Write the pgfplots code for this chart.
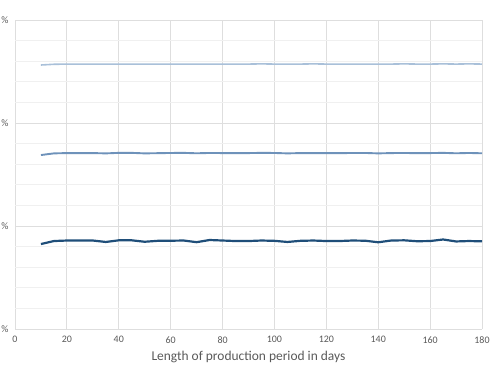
\documentclass[border=0pt]{standalone}
\usepackage{pgfplots}
\pgfplotsset{compat=1.18}
\usepackage{fontspec}
\setmainfont{Carlito}
\definecolor{tickgray}{HTML}{595959}
\definecolor{majgrid}{HTML}{DEDEDE}
\definecolor{mingrid}{HTML}{F0F0F0}
\definecolor{sLight}{HTML}{A9C0D9}
\definecolor{sMid}{HTML}{6E92BA}
\definecolor{sDark}{HTML}{1F4E79}
\begin{document}
\begin{tikzpicture}
\begin{axis}[
  name=ax,
  scale only axis,
  width=467bp, height=309bp,
  xmin=0, xmax=180, ymin=0, ymax=3,
  xtick={0,20,...,180},
  ytick={0,1,2,3},
  yticklabels={\%,\%,\%,\%},
  minor y tick num=4,
  grid=both,
  major grid style={majgrid, line width=0.9pt},
  minor grid style={mingrid, line width=0.8pt},
  axis line style={draw=none},
  major tick length=0pt, minor tick length=0pt,
  tick label style={font=\fontsize{10}{11}\selectfont, text=tickgray},
  /pgf/number format/assume math mode=true,
  xticklabel style={yshift=-4bp},
  yticklabel style={xshift=-3bp},
  xlabel={Length of production period in days},
  xlabel style={font=\fontsize{13.5}{15}\selectfont, text=tickgray, yshift=-1bp},
  every axis plot/.append style={no marks, line join=round},
]
\addplot[sLight, line width=1.6pt] coordinates {
(10,2.563)(15,2.570)(20,2.572)(25,2.572)(30,2.572)(35,2.572)(40,2.572)(45,2.572)(50,2.572)(55,2.572)(60,2.572)(65,2.572)(70,2.572)(75,2.572)(80,2.572)(85,2.572)(90,2.572)(95,2.574)(100,2.572)(105,2.572)(110,2.572)(115,2.574)(120,2.572)(125,2.572)(130,2.572)(135,2.572)(140,2.572)(145,2.572)(150,2.574)(155,2.572)(160,2.572)(165,2.574)(170,2.572)(175,2.574)(180,2.572)
};
\addplot[sMid, line width=1.9pt] coordinates {
(10,1.689)(15,1.705)(20,1.708)(25,1.708)(30,1.708)(35,1.705)(40,1.710)(45,1.710)(50,1.705)(55,1.707)(60,1.709)(65,1.710)(70,1.706)(75,1.709)(80,1.708)(85,1.707)(90,1.708)(95,1.710)(100,1.709)(105,1.705)(110,1.708)(115,1.708)(120,1.707)(125,1.707)(130,1.709)(135,1.709)(140,1.705)(145,1.708)(150,1.709)(155,1.707)(160,1.708)(165,1.710)(170,1.706)(175,1.709)(180,1.706)
};
\addplot[sDark, line width=2.2pt] coordinates {
(10,0.825)(15,0.854)(20,0.859)(25,0.859)(30,0.859)(35,0.845)(40,0.861)(45,0.861)(50,0.847)(55,0.856)(60,0.857)(65,0.859)(70,0.843)(75,0.864)(80,0.859)(85,0.854)(90,0.854)(95,0.859)(100,0.856)(105,0.845)(110,0.856)(115,0.859)(120,0.854)(125,0.854)(130,0.859)(135,0.857)(140,0.842)(145,0.859)(150,0.861)(155,0.852)(160,0.854)(165,0.869)(170,0.850)(175,0.854)(180,0.851)
};
\end{axis}
\pgfresetboundingbox
\path[use as bounding box] ([xshift=-15bp,yshift=-43bp]ax.south west) rectangle ([xshift=13bp,yshift=20bp]ax.north east);
\end{tikzpicture}
\end{document}
